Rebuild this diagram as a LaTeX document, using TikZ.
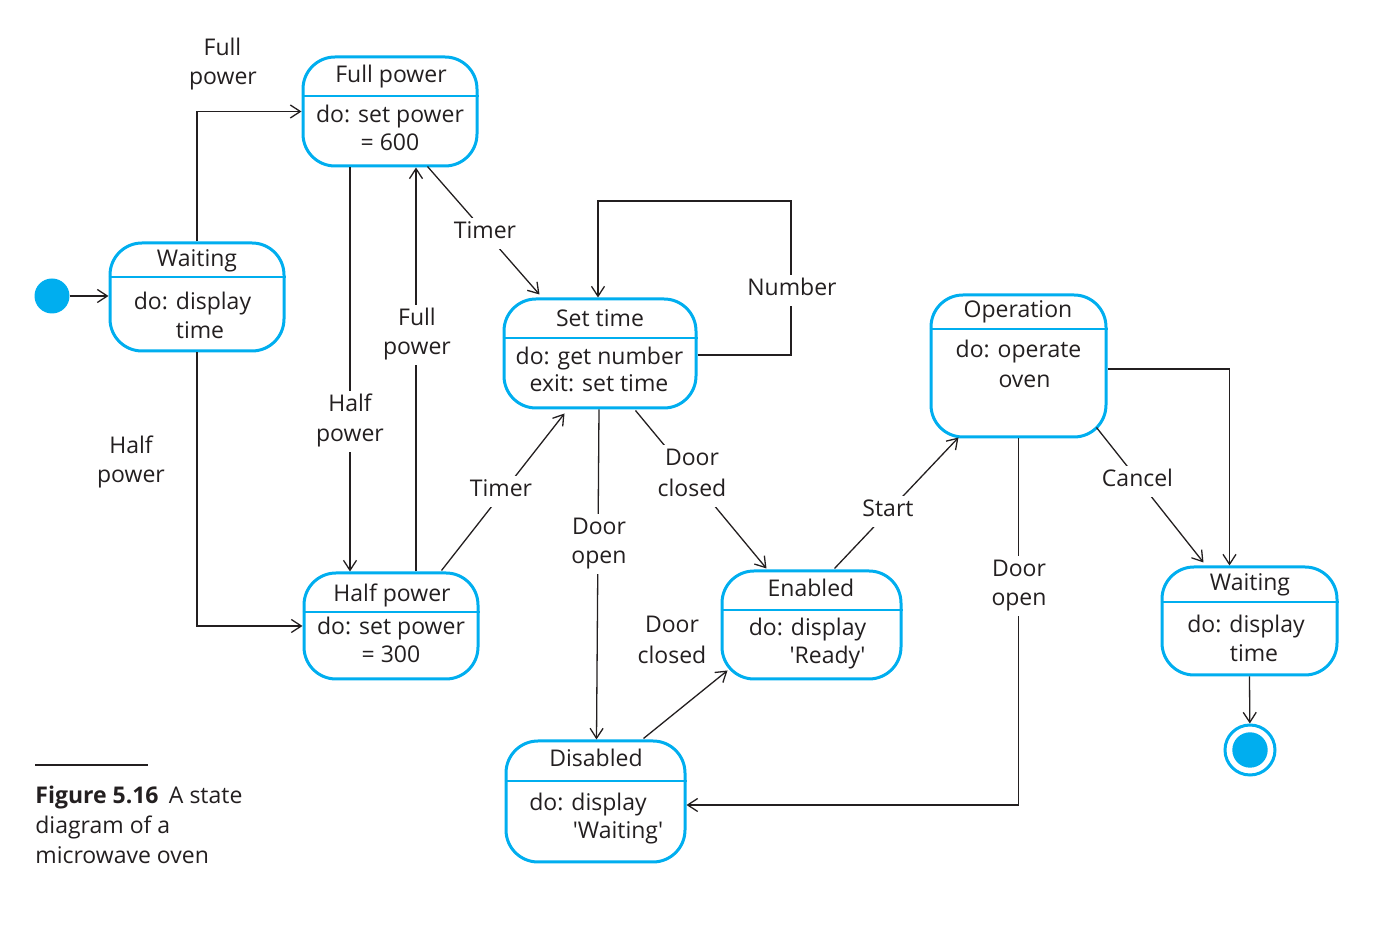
\documentclass[tikz,border=0pt]{standalone}
\usepackage{fontspec}
\setmainfont{Open Sans}
\usetikzlibrary{arrows.meta,calc,fit}
\definecolor{cy}{HTML}{00AEEF}
\definecolor{ink}{HTML}{231F20}
\newcommand\fs{\fontsize{11.5}{15}\selectfont}
\newcommand\sq{\textquotesingle}
\tikzset{
  stbox/.style={draw=cy, line width=1.5pt, rounded corners=16pt, inner sep=0pt},
  divl/.style={draw=cy, line width=0.75pt},
  tx/.style={font=\fs, text=ink, inner sep=0pt, anchor=base},
  lb/.style={font=\fs, text=ink, inner sep=2pt, anchor=base, fill=white, text height=8.6pt, text depth=2.8pt},
  tr/.style={draw=ink, line width=0.65pt, -{Straight Barb[length=5pt,width=6.5pt]}},
}
\newcommand\mytxt[4]{\node[tx] (#1) at (#2,#3) {#4};}
\newcommand\mystate[6]{%
  \node[stbox, fit={(#2,#3) (#4,#5)}] (#1) {};
  \draw[divl] (#1.west |- 0,#6) -- (#1.east |- 0,#6);}
\begin{document}
\begin{tikzpicture}[x=0.5pt,y=-0.5pt]
\useasboundingbox (0,0) rectangle (1373,929);

% states
\mystate{wL}{110}{243}{284}{351}{277}
\mystate{fp}{303}{57}{477}{166}{96}
\mystate{st}{504}{299}{696}{408}{338}
\mystate{hp}{304}{573}{478}{679}{612}
\mystate{op}{931}{295}{1106}{437}{329}
\mystate{en}{722}{571}{901}{679}{610}
\mystate{di}{506}{741}{685}{862}{781}
\mystate{wR}{1162}{567}{1337}{675}{602}

% state texts
\mytxt{wLa}{197}{267}{Waiting}
\mytxt{wLb}{192.5}{310}{do: display}
\mytxt{wLc}{200}{339}{time}
\mytxt{fpa}{391}{83}{Full power}
\mytxt{fpb}{390}{123}{do: set power}
\mytxt{fpc}{390}{151}{= 600}
\mytxt{sta}{600}{327}{Set time}
\mytxt{stb}{599.5}{365}{do: get number}
\mytxt{stc}{599}{392}{exit: set time}
\mytxt{hpa}{392}{602}{Half power}
\mytxt{hpb}{391}{635}{do: set power}
\mytxt{hpc}{391}{663}{= 300}
\mytxt{opa}{1018}{318}{Operation}
\mytxt{opb}{1018.5}{358}{do: operate}
\mytxt{opc}{1024.5}{388}{oven}
\mytxt{ena}{811}{597}{Enabled}
\mytxt{enb}{807.5}{636}{do: display}
\mytxt{enc}{827.5}{664}{\sq Ready\sq}
\mytxt{dia}{596}{767}{Disabled}
\mytxt{dib}{588}{811}{do: display}
\mytxt{dic}{618}{839}{\sq Waiting\sq}
\mytxt{wRa}{1250}{591}{Waiting}
\mytxt{wRb}{1246}{633}{do: display}
\mytxt{wRc}{1254}{662}{time}

% initial and final states
\node[circle, fill=cy, minimum size=17.5pt, inner sep=0pt] (init) at (52,296) {};
\node[circle, draw=cy, line width=1.5pt, minimum size=25pt, inner sep=0pt] (fin) at (1250,750) {};
\fill[cy] (fin.center) circle[radius=8.85pt];

% transitions
\draw[tr] (init) -- (init -| wL.west);
\draw[tr] (wL.north) |- (fp.west);
\draw[tr] (wL.south) |- (hp.west);
\draw[tr] (fp.south -| 350,0) -- (hp.north -| 350,0);
\draw[tr] (hp.north -| 416,0) -- (fp.south -| 416,0);
\draw[tr] ($(fp.south east)+(-51,-1)$) -- ($(st.north west)+(37,-3)$);
\draw[tr] ($(hp.north east)+(-38,-1)$) -- ($(st.south west)+(62,4)$);
\draw[tr] (st.east |- 0,355) -| (791,201) -| (st.north -| 598,0);
\draw[tr] ($(st.south)+(-1,0)$) -- ($(di.north)+(1,0)$);
\draw[tr] ($(st.south east)+(-62,1)$) -- ($(en.north west)+(46,-1)$);
\draw[tr] ($(di.north west)+(139,-1)$) -- ($(en.south west)+(7,-10)$);
\draw[tr] ($(en.north west)+(114,-1)$) -- ($(op.south west)+(29,-1)$);
\draw[tr] (op.south) |- (di.east |- 0,805);
\draw[tr] ($(op.south east)+(-11,-11)$) -- ($(wR.north west)+(43,-3)$);
\draw[tr] (op.east |- 0,369) -| ($(wR.north)+(-20,0)$);
\draw[tr] (wR.south) -- (fin);

% transition labels
\node[lb] (l1a) at (222.5,56) {Full};
\node[lb] (l1b) at (223,85) {power};
\node[lb] (l2a) at (131,454) {Half};
\node[lb] (l2b) at (131,483) {power};
\node[lb] (l3a) at (350,412) {Half};
\node[lb] (l3b) at (350,442) {power};
\node[lb] (l4a) at (417,326) {Full};
\node[lb] (l4b) at (417,355) {power};
\node[lb] (l5) at (485,239) {Timer};
\node[lb] (l6) at (501,497) {Timer};
\node[lb] (l7) at (792,296) {Number};
\node[lb] (l8a) at (599,535) {Door};
\node[lb] (l8b) at (599,564) {open};
\node[lb] (l9a) at (692,466) {Door};
\node[lb] (l9b) at (692,497) {closed};
\node[lb] (l10a) at (672,633) {Door};
\node[lb] (l10b) at (672,664) {closed};
\node[lb] (l11) at (888,517) {Start};
\node[lb] (l12a) at (1019,577) {Door};
\node[lb] (l12b) at (1019,606) {open};
\node[lb] (l13) at (1137.5,487) {Cancel};

% caption
\draw[ink, line width=1pt] (35,765) -- (148,765);
\node[tx, anchor=base west] (capa) at (35,804) {\textbf{Figure 5.16}\hspace{0.45em}A state};
\node[tx, anchor=base west] (capb) at (35,834) {diagram of a};
\node[tx, anchor=base west] (capc) at (35,864) {microwave oven};
\end{tikzpicture}
\end{document}
